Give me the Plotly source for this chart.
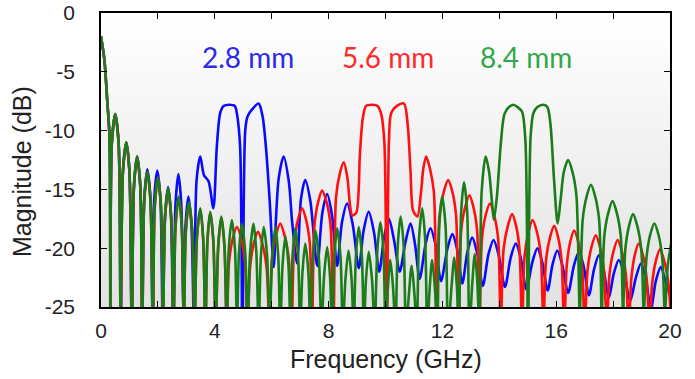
import plotly.graph_objects as go

# ---- data (frequency in GHz, magnitude in dB) ----
green_f = [0.00, 0.12, 0.22, 0.30, 0.33,
           0.38, 0.50, 0.62, 0.69,
           0.77, 0.89, 1.00, 1.08,
           1.16, 1.27, 1.38, 1.45,
           1.52, 1.63, 1.74, 1.82,
           1.89, 2.00, 2.11, 2.18,
           2.25, 2.36, 2.47, 2.55,
           2.62, 2.73, 2.84, 2.91,
           2.98, 3.09, 3.21, 3.29,
           3.37, 3.49, 3.59, 3.67,
           3.74, 3.84, 3.95, 4.03,
           4.12, 4.23, 4.34, 4.42,
           4.49, 4.60, 4.71, 4.78,
           4.85, 4.95, 5.07, 5.15,
           5.24, 5.36, 5.46, 5.54,
           5.62, 5.72, 5.84, 5.92,
           6.02, 6.13, 6.23, 6.30,
           6.38, 6.48, 6.59, 6.66,
           6.73, 6.83, 6.93, 7.00,
           7.08, 7.18, 7.29, 7.36,
           7.44, 7.54, 7.66, 7.75,
           7.84, 7.95, 8.05, 8.12,
           8.20, 8.30, 8.42, 8.50,
           8.59, 8.70, 8.81, 8.88,
           8.96, 9.06, 9.17, 9.24,
           9.31, 9.41, 9.53, 9.62,
           9.71, 9.82, 9.93, 10.00,
           10.08, 10.17, 10.27, 10.35,
           10.43, 10.53, 10.64, 10.72,
           10.82, 10.92, 11.02, 11.10,
           11.18, 11.29, 11.39, 11.47,
           11.55, 11.64, 11.74, 11.82,
           11.89, 11.99, 12.11, 12.20,
           12.32, 12.42, 12.51, 12.58,
           12.66, 12.76, 12.87, 12.95,
           13.05, 13.14, 13.23, 13.30,
           13.38, 13.52, 13.64, 13.74, 13.81, 13.92,
           14.05, 14.18, 14.34, 14.50, 14.64, 14.80, 14.92, 15.01,
           15.10, 15.20, 15.34, 15.55, 15.69, 15.80, 15.92, 16.05,
           16.15, 16.27, 16.42, 16.57, 16.71, 16.83,
           16.93, 17.07, 17.22, 17.37, 17.51, 17.60,
           17.69, 17.83, 17.98, 18.13, 18.27, 18.35,
           18.43, 18.56, 18.70, 18.85, 18.99, 19.08,
           19.17, 19.30, 19.45, 19.60, 19.73, 19.82,
           19.92, 20.10]
green_db = [-2.0, -4.0, -7.5, -10.6, -27,
            -11.1, -8.6, -11.1, -27,
            -13.5, -11.0, -13.5, -27,
            -14.7, -12.2, -14.7, -27,
            -16.0, -13.5, -16.0, -27,
            -16.5, -14.0, -16.5, -27,
            -17.4, -14.9, -17.4, -27,
            -18.1, -15.6, -18.1, -27,
            -18.6, -16.1, -18.6, -27,
            -19.1, -16.6, -19.1, -27,
            -19.4, -16.9, -19.4, -27,
            -19.8, -17.3, -19.8, -27,
            -20.1, -17.6, -20.1, -27,
            -20.4, -17.9, -20.4, -27,
            -20.4, -17.9, -20.4, -27,
            -20.7, -18.2, -20.7, -27,
            -20.7, -18.2, -20.7, -27,
            -21.5, -19.0, -21.5, -27,
            -20.8, -18.3, -20.8, -27,
            -22.1, -19.6, -22.1, -27,
            -21.0, -18.5, -21.0, -27,
            -22.4, -19.9, -22.4, -27,
            -20.8, -18.3, -20.8, -27,
            -22.7, -20.2, -22.7, -27,
            -20.7, -18.2, -20.7, -27,
            -22.8, -20.3, -22.8, -27,
            -20.3, -17.8, -20.3, -27,
            -23.5, -21.0, -23.5, -27,
            -19.8, -17.3, -19.8, -27,
            -24.0, -21.5, -24.0, -27,
            -19.1, -16.6, -19.1, -27,
            -23.5, -21.0, -23.5, -27,
            -18.1, -15.6, -18.1, -27,
            -23.3, -20.8, -23.3, -27,
            -16.9, -14.4, -16.9, -27,
            -23.0, -20.5, -23.0, -27,
            -15.2, -12.2, -13.5, -16.0, -17.6, -15.5,
            -11.2, -8.6, -8.0, -7.8, -8.0, -8.4, -11.0, -28,
            -10.5, -8.5, -8.0, -7.8, -8.0, -9.5, -14.0, -17.9,
            -16.0, -13.5, -12.5, -13.5, -15.5, -25.5,
            -17.6, -15.6, -14.6, -15.6, -17.6, -25.5,
            -19.0, -17.0, -16.0, -17.0, -19.0, -25.5,
            -20.1, -18.1, -17.1, -18.1, -20.1, -25.5,
            -20.9, -18.9, -17.9, -18.9, -20.9, -25.5,
            -21.5, -18.8]

red_f = [0.00, 0.12, 0.22, 0.30, 0.33,
         0.38, 0.50, 0.62, 0.69,
         0.77, 0.89, 1.00, 1.08,
         1.16, 1.27, 1.38, 1.45,
         1.52, 1.63, 1.74, 1.82,
         1.89, 2.00, 2.11, 2.18,
         2.25, 2.36, 2.47, 2.55,
         2.62, 2.73, 2.84, 2.91,
         2.98, 3.09, 3.21, 3.29,
         3.37, 3.49, 3.59, 3.67,
         3.74, 3.84, 3.95, 4.03,
         4.12, 4.23, 4.34, 4.42,
         4.50, 4.63, 4.78, 4.93, 5.06, 5.15,
         5.24, 5.37, 5.52, 5.67, 5.82, 5.92,
         6.01, 6.15, 6.30, 6.45, 6.60, 6.70,
         6.79, 6.92, 7.07, 7.21, 7.34, 7.42,
         7.50, 7.63, 7.77, 7.93, 8.07, 8.17,
         8.26, 8.39, 8.53, 8.66, 8.75, 8.83, 8.97,
         9.10, 9.20, 9.32, 9.55, 9.72, 9.85, 9.96, 10.05,
         10.12, 10.20, 10.40, 10.65, 10.78, 10.88, 10.97, 11.12,
         11.25, 11.33, 11.43, 11.56, 11.70, 11.80,
         11.90, 12.05, 12.20, 12.35, 12.48, 12.57,
         12.66, 12.80, 12.95, 13.09, 13.22, 13.30,
         13.39, 13.52, 13.67, 13.82, 13.96, 14.05,
         14.15, 14.30, 14.45, 14.59, 14.71, 14.80,
         14.89, 15.03, 15.17, 15.32, 15.46, 15.55,
         15.64, 15.78, 15.93, 16.07, 16.19, 16.28,
         16.37, 16.49, 16.63, 16.78, 16.91, 17.00,
         17.10, 17.24, 17.39, 17.54, 17.68, 17.78,
         17.87, 18.01, 18.16, 18.31, 18.45, 18.55,
         18.64, 18.76, 18.90, 19.05, 19.18, 19.28,
         19.37, 19.50, 19.65, 19.80, 19.95, 20.05]
red_db = [-2.0, -4.0, -7.5, -10.6, -27,
          -11.1, -8.6, -11.1, -27,
          -13.5, -11.0, -13.5, -27,
          -14.7, -12.2, -14.7, -27,
          -16.0, -13.5, -16.0, -27,
          -16.5, -14.0, -16.5, -27,
          -17.5, -15.0, -17.5, -27,
          -18.2, -15.7, -18.2, -27,
          -18.7, -16.2, -18.7, -27,
          -19.2, -16.7, -19.2, -27,
          -19.5, -17.0, -19.5, -27,
          -19.9, -17.4, -19.9, -27,
          -21.2, -19.2, -18.2, -19.2, -21.2, -27,
          -21.6, -19.6, -18.6, -19.6, -21.6, -27,
          -20.9, -18.9, -17.9, -18.9, -20.9, -27,
          -19.6, -17.6, -16.6, -17.6, -19.6, -27,
          -18.1, -16.1, -15.1, -16.1, -18.1, -27,
          -15.7, -13.7, -12.7, -14.0, -16.3, -17.2, -17.0,
          -12.0, -9.0, -7.9, -7.8, -7.9, -8.6, -11.0, -28,
          -11.0, -8.5, -7.9, -7.7, -9.5, -13.5, -16.8, -17.3,
          -15.2, -13.2, -12.2, -13.2, -15.2, -27,
          -17.2, -15.2, -14.2, -15.2, -17.2, -27,
          -18.5, -16.5, -15.5, -16.5, -18.5, -27,
          -19.2, -17.2, -16.2, -17.2, -19.2, -27,
          -20.1, -18.1, -17.1, -18.1, -20.1, -27,
          -20.6, -18.6, -17.6, -18.6, -20.6, -27,
          -21.1, -19.1, -18.1, -19.1, -21.1, -27,
          -21.5, -19.5, -18.5, -19.5, -21.5, -27,
          -21.9, -19.9, -18.9, -19.9, -21.9, -27,
          -22.3, -20.3, -19.3, -20.3, -22.3, -27,
          -22.6, -20.6, -19.6, -20.6, -22.6, -27,
          -23.1, -21.1, -20.1, -21.1, -23.1, -27]

blue_f = [0.00, 0.12, 0.22, 0.30, 0.33,
          0.38, 0.50, 0.62, 0.69,
          0.77, 0.89, 1.00, 1.08,
          1.16, 1.27, 1.38, 1.45,
          1.52, 1.63, 1.74, 1.82,
          1.87, 1.98, 2.09, 2.17,
          2.25, 2.36, 2.46, 2.54,
          2.62, 2.72, 2.82, 2.90,
          2.97, 3.07, 3.18, 3.27,
          3.36, 3.49, 3.62, 3.78, 3.95,
          4.07, 4.19, 4.31, 4.50, 4.70, 4.78, 4.89, 4.97,
          5.07, 5.15, 5.31, 5.54, 5.68, 5.80, 5.93, 6.07,
          6.15, 6.25, 6.42, 6.60, 6.72, 6.89,
          7.03, 7.18, 7.36, 7.60,
          7.78, 7.95, 8.12, 8.30,
          8.47, 8.65, 8.85, 9.06,
          9.23, 9.41, 9.60, 9.78,
          9.95, 10.12, 10.30, 10.50,
          10.70, 10.88, 11.04, 11.20,
          11.42, 11.58, 11.75, 11.95,
          12.18, 12.35, 12.52, 12.70,
          12.88, 13.05, 13.22, 13.42,
          13.62, 13.80, 13.98, 14.20,
          14.40, 14.58, 14.76, 14.95,
          15.16, 15.34, 15.52, 15.70,
          15.87, 16.04, 16.22, 16.42,
          16.62, 16.80, 16.97, 17.15,
          17.33, 17.50, 17.67, 17.85,
          18.02, 18.20, 18.40, 18.60,
          18.80, 18.98, 19.15, 19.33,
          19.50, 19.68, 19.85, 20.00]
blue_db = [-2.0, -4.0, -7.5, -10.6, -27,
           -11.1, -8.6, -11.1, -27,
           -13.5, -11.0, -13.5, -27,
           -14.7, -12.2, -14.7, -27,
           -15.8, -13.3, -15.8, -27,
           -15.9, -13.4, -15.9, -27,
           -17.3, -14.8, -17.3, -27,
           -16.2, -13.7, -16.2, -25,
           -18.1, -15.6, -18.1, -27,
           -14.2, -12.2, -13.8, -14.3, -16.6,
           -11.4, -8.5, -7.9, -7.8, -7.9, -8.6, -11.4, -28,
           -10.0, -8.8, -8.2, -7.7, -8.8, -11.5, -16.0, -21.6,
           -17.5, -14.0, -12.2, -14.3, -17.8, -21.3,
           -15.8, -14.2, -16.0, -21.5,
           -17.0, -15.4, -17.2, -21.5,
           -17.8, -16.2, -18.0, -21.7,
           -18.5, -16.9, -18.7, -22.0,
           -19.1, -17.5, -19.3, -22.0,
           -19.5, -17.9, -19.7, -22.6,
           -19.5, -18.3, -19.6, -22.8,
           -20.0, -18.8, -20.1, -23.0,
           -20.3, -19.1, -20.4, -23.2,
           -20.5, -19.3, -20.6, -23.3,
           -20.8, -19.6, -20.9, -23.5,
           -21.2, -20.0, -21.3, -23.6,
           -21.4, -20.2, -21.5, -23.8,
           -21.5, -20.3, -21.6, -24.0,
           -21.8, -20.6, -21.9, -24.2,
           -22.2, -21.0, -22.3, -24.5,
           -22.5, -21.3, -22.6, -25.2,
           -22.8, -21.6, -22.9, -24.0]

assert len(green_f) == len(green_db), (len(green_f), len(green_db))
assert len(red_f) == len(red_db), (len(red_f), len(red_db))
assert len(blue_f) == len(blue_db), (len(blue_f), len(blue_db))

labels = ["2.8 mm", "5.6 mm", "8.4 mm"]
label_x = [5.16, 10.1, 14.93]
label_y = [-3.7, -3.7, -3.7]
x_ticks = [0, 4, 8, 12, 16, 20]
y_ticks = [0, -5, -10, -15, -20, -25]

line_colors = ["#0a0aff", "#ff1010", "#1a7d1a"]
text_colors = ["#2a2ae8", "#ff2a2a", "#2fa84a"]

fig = go.Figure()

# plot-area background gradient (white at top, light grey at bottom)
fig.add_trace(go.Scatter(
    x=[0, 20, 20, 0, 0], y=[-25, -25, 0, 0, -25],
    mode="lines", line=dict(width=0), fill="toself",
    fillgradient=dict(type="vertical",
                      colorscale=[[0, "#e2e2e2"], [1, "#ffffff"]]),
    hoverinfo="skip", showlegend=False))

for f, db, c in [(blue_f, blue_db, line_colors[0]),
                 (red_f, red_db, line_colors[1]),
                 (green_f, green_db, line_colors[2])]:
    fig.add_trace(go.Scatter(
        x=f, y=db, mode="lines",
        line=dict(color=c, width=2.6, shape="spline", smoothing=0.8),
        showlegend=False))

for t, x, y, c in zip(labels, label_x, label_y, text_colors):
    fig.add_annotation(x=x, y=y, text=t, showarrow=False,
                       font=dict(family="Lato", size=28, color=c),
                       xanchor="center", yanchor="middle")

tick_font = dict(family="Liberation Sans, Arial", size=21, color="#222222")
title_font = dict(family="Liberation Sans, Arial", size=25, color="#222222")

fig.add_annotation(xref="paper", yref="paper", x=0.5, y=-0.178,
                   text="Frequency (GHz)", showarrow=False, font=title_font,
                   xanchor="center", yanchor="middle")
fig.add_annotation(xref="paper", yref="paper", x=-0.139, y=0.462,
                   text="Magnitude (dB)", showarrow=False, textangle=-90,
                   font=title_font, xanchor="center", yanchor="middle")

fig.update_xaxes(range=[0, 20], tickvals=x_ticks, ticktext=[str(v) for v in x_ticks],
                 ticks="inside", ticklen=6, tickcolor="black", tickwidth=1.3,
                 minor=dict(dtick=2, tick0=0, ticks="inside", ticklen=6,
                            tickcolor="black", tickwidth=1.3),
                 showline=True, linecolor="black", linewidth=1.5, mirror="ticks",
                 showgrid=False, zeroline=False, tickfont=tick_font,
                 ticklabelstandoff=4, automargin=False)
fig.update_yaxes(range=[-25, 0], tickvals=y_ticks, ticktext=[str(v) for v in y_ticks],
                 ticks="inside", ticklen=6, tickcolor="black", tickwidth=1.3,
                 showline=True, linecolor="black", linewidth=1.5, mirror="ticks",
                 showgrid=False, zeroline=False, tickfont=tick_font,
                 ticklabelstandoff=20, automargin=False)

fig.update_layout(width=695, height=379,
                  margin=dict(l=101, r=25, t=13, b=72, autoexpand=False),
                  paper_bgcolor="white", plot_bgcolor="white",
                  showlegend=False)

fig.write_html("out.html", config={"displayModeBar": False},
               post_script="document.body.style.margin='0px';")
